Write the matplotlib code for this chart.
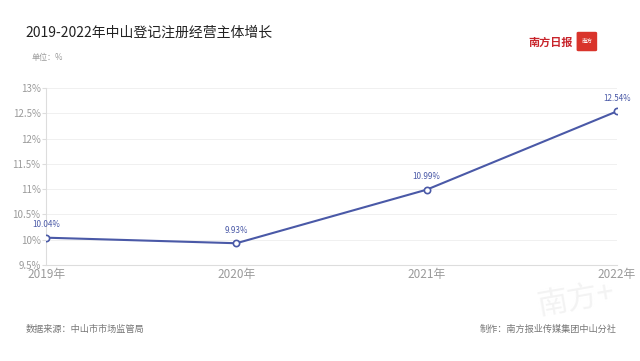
import matplotlib.pyplot as plt
from matplotlib.patches import FancyBboxPatch

plt.rcParams['font.family'] = ['Noto Sans CJK SC', 'DejaVu Sans']

# 数据
years = ['2019年', '2020年', '2021年', '2022年']
growth = [10.04, 9.93, 10.99, 12.54]
labels = ['10.04%', '9.93%', '10.99%', '12.54%']
yticks = [9.5, 10, 10.5, 11, 11.5, 12, 12.5, 13]
ytick_labels = ['9.5%', '10%', '10.5%', '11%', '11.5%', '12%', '12.5%', '13%']

line_color = '#4a59a7'
grey = '#9a9a9a'

fig = plt.figure(figsize=(6.4, 3.61), dpi=100)
ax = fig.add_axes([0.072, 0.266, 0.892, 0.49])

x = list(range(len(years)))
ax.plot(x, growth, color=line_color, lw=1.5, marker='o', ms=4.5,
        mfc='white', mec=line_color, mew=1.2, zorder=3)
for xi, yi, lab in zip(x, growth, labels):
    ax.annotate(lab, (xi, yi), xytext=(0, 6), textcoords='offset points',
                ha='center', va='bottom', fontsize=5.8, color=line_color,
                fontweight='medium')

ax.set_xlim(0, 3)
ax.set_ylim(9.5, 13)
ax.set_xticks(x)
ax.set_xticklabels(years, fontsize=8.5, color=grey)
ax.set_yticks(yticks)
ax.set_yticklabels(ytick_labels, fontsize=7, color=grey)
ax.tick_params(axis='x', length=0, pad=2)
ax.tick_params(axis='y', length=3, color='#dddddd', pad=1)
ax.grid(axis='y', color='#f0f0f0', lw=0.7)
ax.set_axisbelow(True)
for s in ['top', 'right']:
    ax.spines[s].set_visible(False)
ax.spines['left'].set_color('#dddddd')
ax.spines['bottom'].set_color('#dddddd')

# 标题和注释
fig.text(0.039, 0.91, '2019-2022年中山登记注册经营主体增长', fontsize=10, color='#222222',
         ha='left', va='center')
fig.text(0.05, 0.84, '单位：%', fontsize=5.8, color=grey, ha='left', va='center')
fig.text(0.04, 0.088, '数据来源：中山市市场监管局', fontsize=6.6, color='#777777',
         ha='left', va='center')
fig.text(0.964, 0.088, '制作：南方报业传媒集团中山分社', fontsize=6.6, color='#777777',
         ha='right', va='center')

# 报头标识
fig.text(0.895, 0.882, '南方日报', fontsize=8, color='#c8242b', ha='right',
         va='center', fontstyle='italic', fontweight='bold')
fig.patches.append(FancyBboxPatch((0.904, 0.862), 0.026, 0.046, boxstyle='round,pad=0.002',
                                  transform=fig.transFigure, color='#d9342b'))
fig.text(0.917, 0.884, '南方', fontsize=4, color='white', ha='center', va='center')

# 水印
fig.text(0.9, 0.17, '南方+', fontsize=22, color='#f3f3f3', ha='center', va='center',
         rotation=10, zorder=0)

fig.savefig('out.png', dpi=100, facecolor='white')
